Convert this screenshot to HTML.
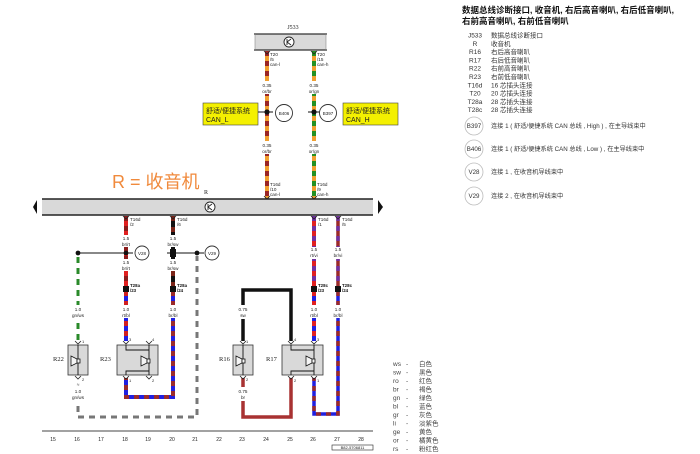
<!DOCTYPE html>
<html><head><meta charset="utf-8">
<style>
html,body{margin:0;padding:0;background:#fff;}
svg{display:block;}
.t{font-family:"Liberation Sans","Noto Sans CJK SC",sans-serif;}
.s{font-family:"Liberation Serif",serif;}
</style></head><body>
<svg width="700" height="454" viewBox="0 0 700 454" xmlns="http://www.w3.org/2000/svg">
<rect width="700" height="454" fill="#fff"/>

<!-- ===== J533 box ===== -->
<text x="293" y="29" class="s" font-size="6" text-anchor="middle" fill="#222">J533</text>
<rect x="255" y="34" width="71" height="16" fill="#d9d9d9"/>
<line x1="254" y1="34" x2="327" y2="34" stroke="#333" stroke-width="1.3"/>
<line x1="254" y1="50" x2="327" y2="50" stroke="#333" stroke-width="1.3"/>
<line x1="255" y1="34" x2="255" y2="50" stroke="#888" stroke-width="0.6"/>
<line x1="326" y1="34" x2="326" y2="50" stroke="#888" stroke-width="0.6"/>
<circle cx="289" cy="42" r="5" fill="#fff" stroke="#222" stroke-width="0.9"/>
<path d="M287,39 V45 M287,42 L291,39 M287,42 L291,45" stroke="#222" stroke-width="0.9" fill="none"/>

<!-- ===== top CAN wires ===== -->
<line x1="267" y1="51" x2="267" y2="199" stroke="#f0a030" stroke-width="4"/>
<line x1="267" y1="51" x2="267" y2="199" stroke="#9a2626" stroke-width="4" stroke-dasharray="5 5"/>
<line x1="314" y1="51" x2="314" y2="199" stroke="#f0a030" stroke-width="4"/>
<line x1="314" y1="51" x2="314" y2="199" stroke="#239023" stroke-width="4" stroke-dasharray="5 5"/>
<rect x="257" y="81" width="20" height="13" fill="#fff"/>
<rect x="257" y="141" width="20" height="13" fill="#fff"/>
<rect x="304" y="81" width="20" height="13" fill="#fff"/>
<rect x="304" y="141" width="20" height="13" fill="#fff"/>
<g class="t" font-size="4.6" fill="#222">
<text x="267" y="87" text-anchor="middle">0.35</text><text x="267" y="93" text-anchor="middle">or/br</text>
<text x="267" y="147" text-anchor="middle">0.35</text><text x="267" y="153" text-anchor="middle">or/br</text>
<text x="314" y="87" text-anchor="middle">0.35</text><text x="314" y="93" text-anchor="middle">or/gn</text>
<text x="314" y="147" text-anchor="middle">0.35</text><text x="314" y="153" text-anchor="middle">or/gn</text>
<text x="270" y="56">T20</text><text x="270" y="61">/5</text><text x="270" y="66">can-l</text>
<text x="317" y="56">T20</text><text x="317" y="61">/15</text><text x="317" y="66">can-h</text>
<text x="270" y="186">T16d</text><text x="270" y="191">/10</text><text x="270" y="196">can-l</text>
<text x="317" y="186">T16d</text><text x="317" y="191">/9</text><text x="317" y="196">can-h</text>
</g>
<path d="M264,51 L267,54 L270,51 M311,51 L314,54 L317,51 M264,196 L267,199 L270,196 M311,196 L314,199 L317,196" stroke="#222" stroke-width="0.8" fill="none"/>

<!-- junctions -->
<line x1="258" y1="112" x2="273" y2="112" stroke="#111" stroke-width="1"/>
<line x1="308" y1="112" x2="321" y2="112" stroke="#111" stroke-width="1"/>
<circle cx="267" cy="112" r="2.6" fill="#111"/>
<circle cx="314" cy="112" r="2.6" fill="#111"/>
<circle cx="284" cy="113" r="8.5" fill="#fff" stroke="#333" stroke-width="0.9"/>
<circle cx="328" cy="113" r="8.5" fill="#fff" stroke="#333" stroke-width="0.9"/>
<text x="284" y="115" class="t" font-size="4.5" text-anchor="middle" fill="#222">B406</text>
<text x="328" y="115" class="t" font-size="4.5" text-anchor="middle" fill="#222">B397</text>

<!-- yellow boxes -->
<rect x="203" y="103" width="55" height="22" fill="#f4f000" stroke="#444" stroke-width="0.6"/>
<text x="206" y="113" class="t" font-size="7" fill="#222">舒适/便捷系统</text>
<text x="206" y="122" class="t" font-size="7" fill="#222">CAN_L</text>
<rect x="343" y="103" width="55" height="22" fill="#f4f000" stroke="#444" stroke-width="0.6"/>
<text x="346" y="113" class="t" font-size="7" fill="#222">舒适/便捷系统</text>
<text x="346" y="122" class="t" font-size="7" fill="#222">CAN_H</text>

<!-- R = 收音机 -->
<text x="112" y="188" class="t" font-size="18" fill="#f08a3c">R = 收音机</text>
<text x="204" y="194" class="s" font-size="6" fill="#222">R</text>

<!-- ===== main bar ===== -->
<rect x="42" y="199" width="331" height="16" fill="#d9d9d9"/>
<line x1="42" y1="199" x2="373" y2="199" stroke="#222" stroke-width="1.4"/>
<line x1="42" y1="215" x2="373" y2="215" stroke="#222" stroke-width="1.4"/>
<polygon points="33,207 37,200 37,214" fill="#111"/>
<polygon points="383,207 378,200 378,214" fill="#111"/>
<circle cx="210" cy="207" r="5" fill="#fff" stroke="#222" stroke-width="0.9"/>
<path d="M208,204 V210 M208,207 L212,204 M208,207 L212,210" stroke="#222" stroke-width="0.9" fill="none"/>

<!-- ===== lower-left wires ===== -->
<line x1="126" y1="216" x2="126" y2="287" stroke="#e02020" stroke-width="4"/>
<line x1="126" y1="216" x2="126" y2="287" stroke="#8b1c1c" stroke-width="4" stroke-dasharray="5 5"/>
<line x1="173" y1="216" x2="173" y2="287" stroke="#111" stroke-width="4"/>
<line x1="173" y1="216" x2="173" y2="287" stroke="#7a2418" stroke-width="4" stroke-dasharray="5 6"/>
<line x1="126" y1="291" x2="126" y2="341" stroke="#2020e0" stroke-width="4"/>
<line x1="126" y1="291" x2="126" y2="341" stroke="#d02020" stroke-width="4" stroke-dasharray="5 5"/>
<path d="M173,291 V397 H126 V378" stroke="#2020e0" stroke-width="4" fill="none"/>
<path d="M173,291 V397 H126 V378" stroke="#9a2a2a" stroke-width="4" fill="none" stroke-dasharray="5 5"/>
<line x1="78" y1="257" x2="78" y2="341" stroke="#2a8a2a" stroke-width="3" stroke-dasharray="6 5"/>
<path d="M78,406 V417 H197 V256" stroke="#777" stroke-width="3" fill="none" stroke-dasharray="6 5"/>
<line x1="78" y1="253" x2="133" y2="253" stroke="#111" stroke-width="1"/>
<line x1="167" y1="253" x2="204" y2="253" stroke="#111" stroke-width="1"/>
<circle cx="78" cy="253" r="2.4" fill="#111"/>
<circle cx="126" cy="253" r="2.4" fill="#111"/>
<rect x="170" y="249" width="6" height="8" fill="#111"/>
<circle cx="197" cy="253" r="2.4" fill="#111"/>
<circle cx="142" cy="253" r="7" fill="#fff" stroke="#333" stroke-width="0.9"/>
<circle cx="212" cy="253" r="7" fill="#fff" stroke="#333" stroke-width="0.9"/>
<text x="142" y="255" class="t" font-size="4.5" text-anchor="middle" fill="#222">V28</text>
<text x="212" y="255" class="t" font-size="4.5" text-anchor="middle" fill="#222">V29</text>

<rect x="117" y="235" width="18" height="12" fill="#fff"/>
<rect x="117" y="259" width="18" height="12" fill="#fff"/>
<rect x="164" y="235" width="18" height="12" fill="#fff"/>
<rect x="164" y="259" width="18" height="12" fill="#fff"/>
<rect x="117" y="305" width="18" height="13" fill="#fff"/>
<rect x="164" y="305" width="18" height="13" fill="#fff"/>
<rect x="69" y="305" width="18" height="13" fill="#fff"/>

<!-- ===== lower-right wires ===== -->
<line x1="314" y1="216" x2="314" y2="287" stroke="#e02020" stroke-width="4"/>
<line x1="314" y1="216" x2="314" y2="287" stroke="#7030a0" stroke-width="4" stroke-dasharray="5 5"/>
<line x1="338" y1="216" x2="338" y2="287" stroke="#9a2a2a" stroke-width="3.5"/>
<line x1="338" y1="216" x2="338" y2="287" stroke="#7030a0" stroke-width="3.5" stroke-dasharray="5 5"/>
<line x1="314" y1="291" x2="314" y2="341" stroke="#2020e0" stroke-width="4"/>
<line x1="314" y1="291" x2="314" y2="341" stroke="#e02020" stroke-width="4" stroke-dasharray="5 5"/>
<path d="M338,291 V414 H314 V378" stroke="#2020e0" stroke-width="3.5" fill="none"/>
<path d="M338,291 V414 H314 V378" stroke="#9a2a2a" stroke-width="3.5" fill="none" stroke-dasharray="5 5"/>
<path d="M243,341 V290 H291 V341" stroke="#111" stroke-width="3.5" fill="none"/>
<path d="M243,378 V417 H291 V378" stroke="#a83232" stroke-width="3.5" fill="none"/>
<rect x="305" y="247" width="18" height="12" fill="#fff"/>
<rect x="329" y="247" width="18" height="12" fill="#fff"/>
<rect x="305" y="305" width="18" height="13" fill="#fff"/>
<rect x="329" y="305" width="18" height="13" fill="#fff"/>
<rect x="233" y="305" width="20" height="14" fill="#fff"/>
<rect x="233" y="387" width="20" height="14" fill="#fff"/>

<path d="M123,216 L126,219 L129,216 M170,216 L173,219 L176,216 M311,216 L314,219 L317,216 M335,216 L338,219 L341,216" stroke="#222" stroke-width="0.8" fill="none"/>
<g class="t" font-size="4.6" fill="#222">
<text x="130" y="221">T16d</text><text x="130" y="226">/2</text>
<text x="177" y="221">T16d</text><text x="177" y="226">/6</text>
<text x="318" y="221">T16d</text><text x="318" y="226">/1</text>
<text x="342" y="221">T16d</text><text x="342" y="226">/5</text>
<text x="126" y="240" text-anchor="middle">1.5</text><text x="126" y="246" text-anchor="middle">br/rt</text>
<text x="126" y="264" text-anchor="middle">1.5</text><text x="126" y="270" text-anchor="middle">br/rt</text>
<text x="173" y="240" text-anchor="middle">1.5</text><text x="173" y="246" text-anchor="middle">br/sw</text>
<text x="173" y="264" text-anchor="middle">1.5</text><text x="173" y="270" text-anchor="middle">br/sw</text>
<text x="126" y="311" text-anchor="middle">1.0</text><text x="126" y="317" text-anchor="middle">rt/bl</text>
<text x="173" y="311" text-anchor="middle">1.0</text><text x="173" y="317" text-anchor="middle">br/bl</text>
<text x="78" y="311" text-anchor="middle">1.0</text><text x="78" y="317" text-anchor="middle">gn/ws</text>
<text x="78" y="386" text-anchor="middle">≈</text>
<text x="78" y="393" text-anchor="middle">1.0</text><text x="78" y="399" text-anchor="middle">gn/ws</text>
<text x="314" y="251" text-anchor="middle">1.5</text><text x="314" y="257" text-anchor="middle">rt/vi</text>
<text x="338" y="251" text-anchor="middle">1.5</text><text x="338" y="257" text-anchor="middle">br/vi</text>
<text x="314" y="311" text-anchor="middle">1.0</text><text x="314" y="317" text-anchor="middle">rt/bl</text>
<text x="338" y="311" text-anchor="middle">1.0</text><text x="338" y="317" text-anchor="middle">br/bl</text>
<text x="243" y="311" text-anchor="middle">0.75</text><text x="243" y="317" text-anchor="middle">sw</text>
<text x="243" y="393" text-anchor="middle">0.75</text><text x="243" y="399" text-anchor="middle">br</text>
</g>

<rect x="123" y="286" width="6" height="6" fill="#111"/>
<rect x="170" y="286" width="6" height="6" fill="#111"/>
<rect x="311" y="286" width="6" height="6" fill="#111"/>
<rect x="335" y="286" width="6" height="6" fill="#111"/>
<g class="t" font-size="4.4" font-weight="bold" fill="#111">
<text x="130" y="287">T28a</text><text x="130" y="292">/23</text>
<text x="177" y="287">T28a</text><text x="177" y="292">/24</text>
<text x="318" y="287">T28c</text><text x="318" y="292">/23</text>
<text x="342" y="287">T28c</text><text x="342" y="292">/24</text>
</g>

<!-- ===== components ===== -->
<g stroke="#333" stroke-width="0.8">
<rect x="68" y="345" width="20" height="30" fill="#d9d9d9"/>
<rect x="117" y="345" width="41" height="30" fill="#d9d9d9"/>
<rect x="233" y="345" width="20" height="30" fill="#d9d9d9"/>
<rect x="282" y="345" width="41" height="30" fill="#d9d9d9"/>
</g>
<g stroke="#111" stroke-width="0.9" fill="none">
<line x1="78" y1="345" x2="78" y2="375"/>
<line x1="243" y1="345" x2="243" y2="375"/>
<path d="M126,345 V350 H149 M149,345 V375 M126,375 V371 H149"/>
<path d="M291,345 V350 H314 M314,345 V375 M291,375 V371 H314"/>
</g>
<g fill="#f5f5f5" stroke="#111" stroke-width="0.8">
<polygon points="77,359 71,356 71,366 77,363"/><rect x="77" y="359" width="3" height="4"/>
<polygon points="242,359 236,356 236,366 242,363"/><rect x="242" y="359" width="3" height="4"/>
<polygon points="147,359 141,356 141,366 147,363"/><rect x="147" y="359" width="3" height="4"/>
<polygon points="312,359 306,356 306,366 312,363"/><rect x="312" y="359" width="3" height="4"/>
</g>
<path d="M75,341 L78,344 L81,341 M75,376 L78,379 L81,376 M123,341 L126,344 L129,341 M146,341 L149,344 L152,341 M123,376 L126,379 L129,376 M146,376 L149,379 L152,376 M240,341 L243,344 L246,341 M240,376 L243,379 L246,376 M288,341 L291,344 L294,341 M311,341 L314,344 L317,341 M288,376 L291,379 L294,376 M311,376 L314,379 L317,376" stroke="#222" stroke-width="0.8" fill="none"/>
<g class="t" font-size="4" fill="#222">
<text x="82" y="343">1</text><text x="82" y="381">2</text>
<text x="129" y="341">3</text><text x="152" y="341">4</text>
<text x="129" y="382">1</text><text x="152" y="382">2</text>
<text x="246" y="343">1</text><text x="246" y="381">2</text>
<text x="294" y="341">4</text><text x="317" y="341">3</text>
<text x="294" y="382">2</text><text x="317" y="382">1</text>
</g>
<g class="s" font-size="6.5" fill="#222">
<text x="53" y="361">R22</text>
<text x="100" y="361">R23</text>
<text x="219" y="361">R16</text>
<text x="266" y="361">R17</text>
</g>

<!-- ===== bottom grid ===== -->
<line x1="42" y1="431" x2="373" y2="431" stroke="#444" stroke-width="1"/>
<g class="t" font-size="5" fill="#222" text-anchor="middle">
<text x="53" y="441">15</text><text x="77" y="441">16</text><text x="101" y="441">17</text><text x="125" y="441">18</text>
<text x="148" y="441">19</text><text x="172" y="441">20</text><text x="195" y="441">21</text><text x="219" y="441">22</text>
<text x="242" y="441">23</text><text x="266" y="441">24</text><text x="290" y="441">25</text><text x="313" y="441">26</text>
<text x="337" y="441">27</text><text x="361" y="441">28</text>
</g>
<rect x="332" y="445" width="41" height="5" fill="#fff" stroke="#222" stroke-width="0.6"/>
<text x="352.5" y="449" class="t" font-size="4" text-anchor="middle" fill="#222">B82-5706811</text>

<!-- ===== colour legend ===== -->
<g class="t" font-size="6.5" fill="#444">
<text x="393" y="366">ws</text><text x="393" y="374.5">sw</text><text x="393" y="383">ro</text><text x="393" y="391.5">br</text>
<text x="393" y="400">gn</text><text x="393" y="408.5">bl</text><text x="393" y="417">gr</text><text x="393" y="425.5">li</text>
<text x="393" y="434">ge</text><text x="393" y="442.5">or</text><text x="393" y="451">rs</text>
<text x="406" y="366">-</text><text x="406" y="374.5">-</text><text x="406" y="383">-</text><text x="406" y="391.5">-</text>
<text x="406" y="400">-</text><text x="406" y="408.5">-</text><text x="406" y="417">-</text><text x="406" y="425.5">-</text>
<text x="406" y="434">-</text><text x="406" y="442.5">-</text><text x="406" y="451">-</text>
<text x="419" y="366">白色</text><text x="419" y="374.5">黑色</text><text x="419" y="383">红色</text><text x="419" y="391.5">褐色</text>
<text x="419" y="400">绿色</text><text x="419" y="408.5">蓝色</text><text x="419" y="417">灰色</text><text x="419" y="425.5">淡紫色</text>
<text x="419" y="434">黄色</text><text x="419" y="442.5">橘黄色</text><text x="419" y="451">粉红色</text>
</g>

<!-- ===== right text block ===== -->
<g class="t" font-size="8.5" font-weight="bold" fill="#111">
<text x="462" y="13">数据总线诊断接口, 收音机, 右后高音喇叭, 右后低音喇叭,</text>
<text x="462" y="24">右前高音喇叭, 右前低音喇叭</text>
</g>
<g class="t" font-size="6.5" fill="#333">
<text x="475" y="37.5" text-anchor="middle">J533</text><text x="491" y="37.5">数据总线诊断接口</text>
<text x="475" y="45.8" text-anchor="middle">R</text><text x="491" y="45.8">收音机</text>
<text x="475" y="54.1" text-anchor="middle">R16</text><text x="491" y="54.1">右后高音喇叭</text>
<text x="475" y="62.4" text-anchor="middle">R17</text><text x="491" y="62.4">右后低音喇叭</text>
<text x="475" y="70.7" text-anchor="middle">R22</text><text x="491" y="70.7">右前高音喇叭</text>
<text x="475" y="79" text-anchor="middle">R23</text><text x="491" y="79">右前低音喇叭</text>
<text x="475" y="87.3" text-anchor="middle">T16d</text><text x="491" y="87.3">16 芯插头连接</text>
<text x="475" y="95.6" text-anchor="middle">T20</text><text x="491" y="95.6">20 芯插头连接</text>
<text x="475" y="103.9" text-anchor="middle">T28a</text><text x="491" y="103.9">28 芯插头连接</text>
<text x="475" y="112.2" text-anchor="middle">T28c</text><text x="491" y="112.2">28 芯插头连接</text>
</g>
<g stroke="#bbb" stroke-width="0.8" fill="#fff">
<circle cx="474" cy="126" r="9"/>
<circle cx="474" cy="149" r="9"/>
<circle cx="474" cy="172" r="9"/>
<circle cx="474" cy="196" r="9"/>
</g>
<g class="t" font-size="6.2" fill="#333">
<text x="474" y="128.2" text-anchor="middle">B397</text>
<text x="474" y="151.2" text-anchor="middle">B406</text>
<text x="474" y="174.2" text-anchor="middle">V28</text>
<text x="474" y="198.2" text-anchor="middle">V29</text>
<text x="491" y="128.2">连接 1 ( 舒适/便捷系统 CAN 总线 , High ) , 在主导线束中</text>
<text x="491" y="151.2">连接 1 ( 舒适/便捷系统 CAN 总线 , Low ) , 在主导线束中</text>
<text x="491" y="174.2">连接 1 , 在收音机导线束中</text>
<text x="491" y="198.2">连接 2 , 在收音机导线束中</text>
</g>
</svg>
</body></html>
